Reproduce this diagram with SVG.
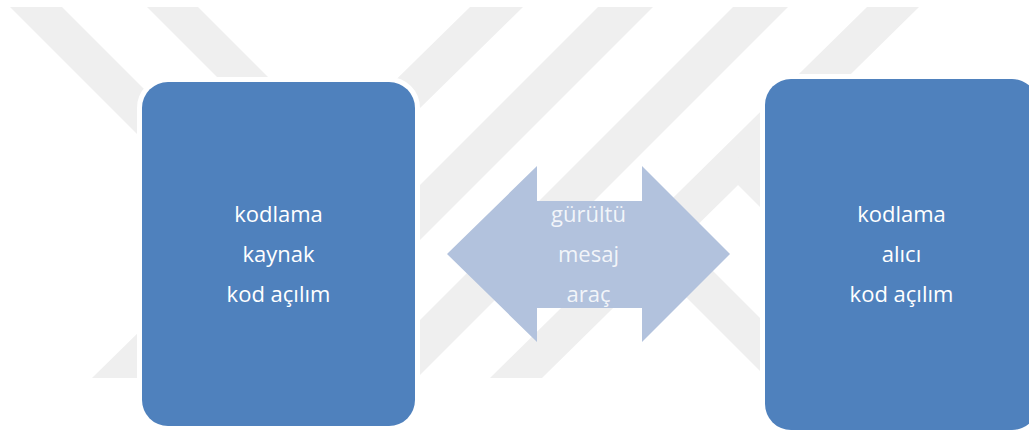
<svg xmlns="http://www.w3.org/2000/svg" width="1029" height="432" viewBox="0 0 1029 432">
<style>
.wm{fill:#EFEFEF}
.box{fill:#4F81BD;stroke:#FFFFFF;stroke-width:10;paint-order:stroke}
.lbl{font-family:"Open Sans","Liberation Sans",sans-serif;font-size:22px;fill:#FFFFFF;text-anchor:middle}
.arrow{fill:#B2C2DD}
.albl{fill-opacity:0.85}
</style>
<rect width="1029" height="432" fill="#FFFFFF"/>
<g id="watermark">
<polygon class="wm" points="10,7 62,7 262,207 210,207"/>
<polygon class="wm" points="147,7 198,7 298,107 247,107"/>
<polygon class="wm" points="470,7 523,7 145,378 92,378"/>
<polygon class="wm" points="598,7 653,7 282,378 227,378"/>
<polygon class="wm" points="733,7 788,7 417,378 362,378"/>
<polygon class="wm" points="867,7 919,7 542,378 490,378"/>
<polygon class="wm" points="739,133 820,214 820,267 738,185"/>
<polygon class="wm" points="660,218 820,378 820,431 660,271"/>
</g>
<g id="connectors">
<g id="arrow-mesaj">
<polygon class="arrow" points="447,254 537,166 537,201 642,201 642,166 730,254 642,342 642,308 537,308 537,342"/>
<text class="lbl albl" x="588.5" y="221.5">gürültü</text>
<text class="lbl albl" x="588.5" y="261.5">mesaj</text>
<text class="lbl albl" x="588.5" y="301.5">araç</text>
</g>
</g>
<g id="node-kaynak">
<rect class="box" x="142" y="82" width="273" height="344" rx="26"/>
<text class="lbl" x="278.5" y="221.5">kodlama</text>
<text class="lbl" x="278.5" y="261.5">kaynak</text>
<text class="lbl" x="278.5" y="301.5">kod açılım</text>
</g>
<g id="node-alici">
<rect class="box" x="765" y="79" width="273" height="351" rx="26"/>
<text class="lbl" x="901.5" y="222">kodlama</text>
<text class="lbl" x="901.5" y="262">alıcı</text>
<text class="lbl" x="901.5" y="302">kod açılım</text>
</g>
</svg>
